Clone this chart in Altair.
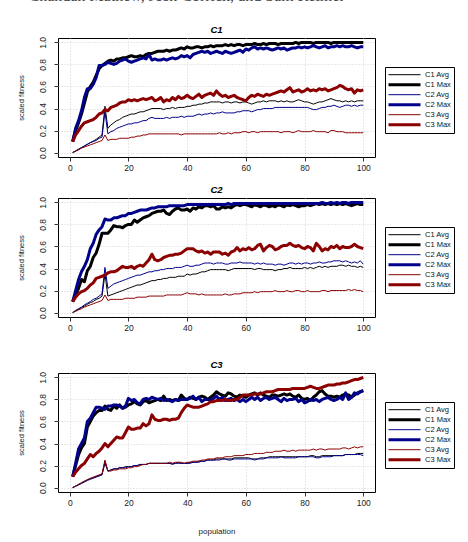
import altair as alt
import pandas as pd

# Generation index along the x axis
population = list(range(1, 101))

series_names = ["C1 Avg", "C1 Max", "C2 Avg", "C2 Max", "C3 Avg", "C3 Max"]
series_colors = ["#000000", "#000000", "#00008b", "#00008b", "#8b0000", "#8b0000"]
series_widths = [1, 3, 1, 3, 1, 3]

x_ticks = [0, 20, 40, 60, 80, 100]
y_ticks = [0.0, 0.2, 0.4, 0.6, 0.8, 1.0]

running_header = "Chandan Mathew, Josh Corrick, and Sam Reimer"

# ---- Panel C1 ----
c1_c1_avg = [0.00, 0.015, 0.03, 0.045, 0.06, 0.075, 0.09, 0.105, 0.12, 0.14,
             0.16, 0.42, 0.22, 0.25, 0.27, 0.29, 0.30, 0.32, 0.33, 0.34,
             0.35, 0.35, 0.36, 0.37, 0.37, 0.38, 0.39, 0.40, 0.40, 0.40,
             0.40, 0.39, 0.40, 0.40, 0.41, 0.40, 0.41, 0.41, 0.41, 0.42,
             0.42, 0.43, 0.43, 0.44, 0.44, 0.45, 0.45, 0.46, 0.46, 0.46,
             0.46, 0.45, 0.46, 0.46, 0.45, 0.46, 0.46, 0.45, 0.46, 0.46,
             0.45, 0.44, 0.45, 0.46, 0.46, 0.47, 0.46, 0.47, 0.47, 0.47,
             0.46, 0.47, 0.46, 0.47, 0.46, 0.46, 0.47, 0.48, 0.47, 0.46,
             0.46, 0.45, 0.44, 0.45, 0.46, 0.46, 0.47, 0.48, 0.49, 0.48,
             0.47, 0.47, 0.46, 0.47, 0.46, 0.47, 0.46, 0.47, 0.47, 0.47]
c1_c1_max = [0.10, 0.20, 0.27, 0.35, 0.45, 0.55, 0.60, 0.64, 0.70, 0.76,
             0.79, 0.81, 0.83, 0.84, 0.83, 0.85, 0.85, 0.86, 0.86, 0.87,
             0.88, 0.87, 0.87, 0.88, 0.87, 0.89, 0.90, 0.90, 0.91, 0.92,
             0.92, 0.92, 0.93, 0.92, 0.93, 0.93, 0.94, 0.95, 0.94, 0.96,
             0.95, 0.95, 0.96, 0.96, 0.95, 0.96, 0.96, 0.97, 0.96, 0.97,
             0.97, 0.97, 0.98, 0.97, 0.98, 0.97, 0.98, 0.98, 0.97, 0.98,
             0.98, 0.98, 0.99, 0.98, 0.98, 0.99, 0.98, 0.99, 0.99, 0.99,
             0.98, 0.99, 0.99, 0.99, 0.99, 0.99, 1.00, 0.99, 1.00, 1.00,
             1.00, 1.00, 0.99, 1.00, 1.00, 1.00, 1.00, 1.00, 0.99, 1.00,
             1.00, 1.00, 1.00, 1.00, 1.00, 1.00, 1.00, 1.00, 1.00, 1.00]
c1_c2_avg = [0.00, 0.015, 0.03, 0.045, 0.06, 0.075, 0.09, 0.10, 0.11, 0.13,
             0.14, 0.37, 0.17, 0.19, 0.20, 0.22, 0.23, 0.24, 0.25, 0.26,
             0.26, 0.27, 0.27, 0.28, 0.29, 0.29, 0.31, 0.32, 0.31, 0.31,
             0.31, 0.31, 0.32, 0.31, 0.32, 0.32, 0.32, 0.33, 0.32, 0.33,
             0.33, 0.33, 0.34, 0.35, 0.34, 0.35, 0.35, 0.36, 0.35, 0.36,
             0.36, 0.37, 0.36, 0.36, 0.36, 0.36, 0.37, 0.37, 0.38, 0.38,
             0.38, 0.37, 0.38, 0.39, 0.39, 0.40, 0.40, 0.40, 0.40, 0.41,
             0.41, 0.41, 0.41, 0.41, 0.41, 0.41, 0.41, 0.41, 0.41, 0.41,
             0.41, 0.40, 0.39, 0.39, 0.40, 0.41, 0.41, 0.42, 0.42, 0.43,
             0.42, 0.41, 0.42, 0.43, 0.43, 0.42, 0.43, 0.42, 0.43, 0.43]
c1_c2_max = [0.10, 0.22, 0.29, 0.38, 0.50, 0.58, 0.58, 0.62, 0.68, 0.79,
             0.79, 0.80, 0.82, 0.81, 0.80, 0.81, 0.83, 0.84, 0.85, 0.83,
             0.82, 0.83, 0.84, 0.85, 0.86, 0.85, 0.89, 0.84, 0.85, 0.84,
             0.84, 0.85, 0.84, 0.85, 0.86, 0.85, 0.86, 0.88, 0.87, 0.88,
             0.86, 0.89, 0.90, 0.91, 0.92, 0.91, 0.92, 0.90, 0.91, 0.92,
             0.91, 0.90, 0.92, 0.91, 0.90, 0.91, 0.92, 0.93, 0.91, 0.94,
             0.93, 0.95, 0.96, 0.94, 0.95, 0.94, 0.95, 0.94, 0.93, 0.94,
             0.95, 0.94, 0.95, 0.93, 0.94, 0.95, 0.95, 0.96, 0.95, 0.96,
             0.95, 0.96, 0.97, 0.96, 0.95, 0.96, 0.97, 0.95, 0.96, 0.96,
             0.97, 0.96, 0.97, 0.96, 0.96, 0.97, 0.96, 0.95, 0.96, 0.96]
c1_c3_avg = [0.00, 0.012, 0.025, 0.04, 0.05, 0.06, 0.07, 0.08, 0.09, 0.10,
             0.11, 0.16, 0.11, 0.12, 0.12, 0.12, 0.13, 0.13, 0.13, 0.13,
             0.14, 0.14, 0.15, 0.15, 0.16, 0.16, 0.17, 0.17, 0.17, 0.17,
             0.17, 0.17, 0.17, 0.17, 0.17, 0.17, 0.17, 0.16, 0.17, 0.17,
             0.17, 0.17, 0.17, 0.17, 0.17, 0.17, 0.17, 0.17, 0.17, 0.17,
             0.18, 0.17, 0.17, 0.18, 0.17, 0.18, 0.18, 0.18, 0.19, 0.19,
             0.18, 0.19, 0.19, 0.18, 0.19, 0.19, 0.19, 0.19, 0.19, 0.19,
             0.19, 0.18, 0.19, 0.19, 0.19, 0.18, 0.19, 0.20, 0.19, 0.19,
             0.19, 0.19, 0.20, 0.19, 0.19, 0.19, 0.19, 0.18, 0.20, 0.20,
             0.19, 0.19, 0.19, 0.18, 0.18, 0.18, 0.18, 0.18, 0.18, 0.18]
c1_c3_max = [0.10, 0.16, 0.20, 0.24, 0.27, 0.28, 0.29, 0.30, 0.32, 0.35,
             0.36, 0.39, 0.38, 0.41, 0.42, 0.43, 0.45, 0.46, 0.46, 0.48,
             0.47, 0.48, 0.47, 0.48, 0.49, 0.48, 0.49, 0.50, 0.47, 0.48,
             0.50, 0.46, 0.48, 0.47, 0.50, 0.48, 0.51, 0.49, 0.50, 0.52,
             0.50, 0.49, 0.51, 0.53, 0.50, 0.52, 0.53, 0.54, 0.52, 0.56,
             0.53, 0.51, 0.52, 0.50, 0.51, 0.52, 0.50, 0.49, 0.48, 0.47,
             0.50, 0.52, 0.51, 0.53, 0.52, 0.51, 0.53, 0.52, 0.53, 0.54,
             0.55, 0.56, 0.55, 0.57, 0.59, 0.55, 0.56, 0.57, 0.55, 0.56,
             0.58, 0.56, 0.57, 0.56, 0.58, 0.57, 0.58, 0.56, 0.57, 0.58,
             0.59, 0.61, 0.60, 0.58, 0.57, 0.58, 0.54, 0.57, 0.56, 0.57]

# ---- Panel C2 ----
c2_c1_avg = [0.00, 0.015, 0.03, 0.045, 0.06, 0.075, 0.09, 0.10, 0.12, 0.13,
             0.15, 0.35, 0.15, 0.16, 0.17, 0.18, 0.19, 0.20, 0.21, 0.22,
             0.23, 0.24, 0.25, 0.25, 0.26, 0.27, 0.28, 0.29, 0.29, 0.30,
             0.30, 0.31, 0.31, 0.32, 0.32, 0.32, 0.33, 0.33, 0.33, 0.35,
             0.34, 0.35, 0.35, 0.36, 0.37, 0.37, 0.38, 0.39, 0.39, 0.39,
             0.39, 0.39, 0.39, 0.38, 0.39, 0.40, 0.40, 0.40, 0.40, 0.40,
             0.40, 0.40, 0.39, 0.40, 0.40, 0.39, 0.39, 0.39, 0.39, 0.38,
             0.39, 0.39, 0.40, 0.40, 0.41, 0.40, 0.40, 0.40, 0.40, 0.41,
             0.40, 0.41, 0.40, 0.41, 0.42, 0.41, 0.42, 0.41, 0.42, 0.42,
             0.42, 0.43, 0.43, 0.42, 0.43, 0.42, 0.42, 0.41, 0.42, 0.41]
c2_c1_max = [0.10, 0.16, 0.22, 0.30, 0.28, 0.38, 0.42, 0.50, 0.54, 0.62,
             0.72, 0.72, 0.72, 0.75, 0.79, 0.78, 0.78, 0.77, 0.79, 0.80,
             0.80, 0.84, 0.82, 0.84, 0.86, 0.87, 0.88, 0.90, 0.91, 0.92,
             0.92, 0.93, 0.90, 0.89, 0.92, 0.94, 0.95, 0.93, 0.93, 0.94,
             0.92, 0.95, 0.94, 0.96, 0.95, 0.97, 0.97, 0.96, 0.97, 0.94,
             0.94, 0.96, 0.95, 0.96, 0.95, 0.97, 0.98, 0.97, 0.98, 0.98,
             0.97, 0.96, 0.98, 0.97, 0.96, 0.98, 0.97, 0.96, 0.97, 0.96,
             0.98, 0.97, 0.96, 0.98, 0.97, 0.98, 0.97, 0.96, 0.97, 0.97,
             0.98, 0.97, 0.98, 0.99, 0.98, 0.99, 0.98, 0.99, 0.98, 0.99,
             0.98, 0.99, 0.98, 0.99, 0.98, 0.97, 0.98, 0.99, 0.98, 0.98]
c2_c2_avg = [0.00, 0.02, 0.035, 0.05, 0.07, 0.085, 0.10, 0.12, 0.13, 0.15,
             0.17, 0.41, 0.22, 0.24, 0.26, 0.27, 0.28, 0.29, 0.30, 0.31,
             0.32, 0.33, 0.34, 0.34, 0.35, 0.36, 0.37, 0.37, 0.38, 0.38,
             0.39, 0.39, 0.40, 0.40, 0.40, 0.41, 0.41, 0.41, 0.42, 0.43,
             0.42, 0.42, 0.43, 0.43, 0.44, 0.45, 0.45, 0.45, 0.44, 0.45,
             0.45, 0.45, 0.44, 0.44, 0.45, 0.45, 0.45, 0.46, 0.45, 0.45,
             0.45, 0.45, 0.44, 0.45, 0.44, 0.45, 0.44, 0.44, 0.44, 0.43,
             0.44, 0.44, 0.43, 0.44, 0.45, 0.45, 0.44, 0.45, 0.44, 0.45,
             0.45, 0.44, 0.45, 0.45, 0.46, 0.45, 0.45, 0.46, 0.46, 0.47,
             0.47, 0.47, 0.46, 0.47, 0.46, 0.45, 0.46, 0.45, 0.47, 0.44]
c2_c2_max = [0.10, 0.20, 0.30, 0.37, 0.42, 0.48, 0.58, 0.63, 0.71, 0.75,
             0.78, 0.85, 0.84, 0.84, 0.86, 0.86, 0.87, 0.88, 0.88, 0.90,
             0.90, 0.91, 0.92, 0.93, 0.93, 0.93, 0.94, 0.95, 0.95, 0.96,
             0.96, 0.96, 0.96, 0.97, 0.97, 0.97, 0.97, 0.97, 0.97, 0.98,
             0.98, 0.98, 0.98, 0.98, 0.98, 0.98, 0.98, 0.98, 0.98, 0.98,
             0.98, 0.98, 0.98, 0.99, 0.98, 0.99, 0.99, 0.99, 0.99, 0.99,
             0.99, 0.99, 0.99, 0.99, 0.99, 0.99, 0.99, 0.99, 0.99, 0.99,
             0.99, 0.99, 0.99, 0.99, 0.99, 0.99, 0.99, 0.99, 0.99, 0.99,
             0.99, 0.99, 0.99, 0.99, 0.99, 1.00, 0.99, 0.99, 1.00, 0.99,
             1.00, 0.99, 1.00, 1.00, 0.99, 1.00, 1.00, 1.00, 1.00, 1.00]
c2_c3_avg = [0.00, 0.012, 0.025, 0.035, 0.05, 0.06, 0.07, 0.08, 0.09, 0.10,
             0.11, 0.16, 0.11, 0.12, 0.12, 0.12, 0.12, 0.12, 0.13, 0.13,
             0.13, 0.13, 0.14, 0.14, 0.14, 0.14, 0.15, 0.15, 0.15, 0.15,
             0.15, 0.15, 0.16, 0.16, 0.16, 0.16, 0.16, 0.16, 0.17, 0.18,
             0.17, 0.17, 0.17, 0.16, 0.17, 0.16, 0.16, 0.16, 0.16, 0.16,
             0.16, 0.16, 0.17, 0.16, 0.16, 0.17, 0.17, 0.17, 0.18, 0.18,
             0.18, 0.18, 0.19, 0.18, 0.19, 0.19, 0.19, 0.19, 0.19, 0.20,
             0.19, 0.19, 0.19, 0.20, 0.19, 0.19, 0.20, 0.20, 0.19, 0.19,
             0.20, 0.19, 0.19, 0.19, 0.19, 0.20, 0.20, 0.19, 0.20, 0.20,
             0.20, 0.20, 0.20, 0.20, 0.21, 0.20, 0.21, 0.20, 0.20, 0.19]
c2_c3_max = [0.10, 0.14, 0.17, 0.19, 0.20, 0.22, 0.25, 0.27, 0.31, 0.32,
             0.33, 0.34, 0.36, 0.37, 0.37, 0.38, 0.40, 0.42, 0.41, 0.41,
             0.42, 0.40, 0.42, 0.43, 0.42, 0.45, 0.48, 0.53, 0.48, 0.47,
             0.48, 0.50, 0.51, 0.52, 0.52, 0.53, 0.53, 0.54, 0.56, 0.58,
             0.58, 0.58, 0.56, 0.55, 0.56, 0.54, 0.55, 0.53, 0.55, 0.55,
             0.55, 0.53, 0.54, 0.52, 0.55, 0.56, 0.59, 0.56, 0.58, 0.57,
             0.59, 0.57, 0.58, 0.61, 0.62, 0.56, 0.59, 0.61, 0.60, 0.57,
             0.58, 0.60, 0.61, 0.61, 0.63, 0.61, 0.60, 0.61, 0.59, 0.58,
             0.60, 0.59, 0.56, 0.63, 0.60, 0.56, 0.58, 0.57, 0.60, 0.59,
             0.61, 0.58, 0.60, 0.59, 0.59, 0.60, 0.62, 0.60, 0.59, 0.58]

# ---- Panel C3 ----
c3_c1_avg = [0.00, 0.013, 0.026, 0.04, 0.055, 0.07, 0.08, 0.09, 0.10, 0.11,
             0.12, 0.22, 0.15, 0.16, 0.17, 0.17, 0.18, 0.18, 0.19, 0.19,
             0.19, 0.20, 0.20, 0.21, 0.21, 0.21, 0.22, 0.22, 0.22, 0.22,
             0.22, 0.22, 0.22, 0.22, 0.22, 0.22, 0.23, 0.22, 0.22, 0.22,
             0.23, 0.23, 0.23, 0.24, 0.24, 0.24, 0.25, 0.25, 0.25, 0.26,
             0.26, 0.26, 0.26, 0.26, 0.26, 0.27, 0.27, 0.27, 0.27, 0.27,
             0.27, 0.26, 0.26, 0.26, 0.27, 0.27, 0.27, 0.28, 0.28, 0.28,
             0.28, 0.28, 0.28, 0.28, 0.28, 0.28, 0.28, 0.28, 0.28, 0.28,
             0.28, 0.29, 0.29, 0.28, 0.28, 0.29, 0.29, 0.29, 0.29, 0.29,
             0.29, 0.29, 0.29, 0.30, 0.30, 0.30, 0.30, 0.31, 0.31, 0.31]
c3_c1_max = [0.10, 0.20, 0.30, 0.36, 0.40, 0.55, 0.60, 0.65, 0.68, 0.70,
             0.70, 0.74, 0.71, 0.70, 0.74, 0.72, 0.75, 0.72, 0.73, 0.75,
             0.76, 0.78, 0.76, 0.75, 0.78, 0.79, 0.77, 0.78, 0.79, 0.80,
             0.79, 0.83, 0.79, 0.80, 0.79, 0.80, 0.79, 0.84, 0.81, 0.80,
             0.82, 0.81, 0.80, 0.82, 0.83, 0.82, 0.80, 0.82, 0.84, 0.87,
             0.85, 0.84, 0.83, 0.86, 0.85, 0.83, 0.82, 0.84, 0.83, 0.82,
             0.84, 0.85, 0.86, 0.84, 0.86, 0.84, 0.83, 0.82, 0.84, 0.84,
             0.83, 0.84, 0.85, 0.84, 0.85, 0.83, 0.82, 0.84, 0.81, 0.80,
             0.81, 0.79, 0.82, 0.84, 0.87, 0.88, 0.85, 0.83, 0.83, 0.82,
             0.83, 0.82, 0.84, 0.85, 0.84, 0.82, 0.84, 0.86, 0.87, 0.88]
c3_c2_avg = [0.00, 0.012, 0.024, 0.037, 0.05, 0.065, 0.075, 0.085, 0.095, 0.105,
             0.115, 0.24, 0.15, 0.16, 0.17, 0.17, 0.18, 0.18, 0.18, 0.19,
             0.19, 0.20, 0.20, 0.21, 0.21, 0.21, 0.22, 0.22, 0.22, 0.22,
             0.22, 0.22, 0.22, 0.22, 0.21, 0.22, 0.22, 0.22, 0.22, 0.22,
             0.22, 0.23, 0.23, 0.23, 0.24, 0.24, 0.25, 0.25, 0.25, 0.25,
             0.25, 0.26, 0.26, 0.25, 0.25, 0.26, 0.26, 0.26, 0.26, 0.26,
             0.26, 0.26, 0.25, 0.26, 0.26, 0.26, 0.27, 0.27, 0.27, 0.27,
             0.27, 0.28, 0.27, 0.27, 0.27, 0.27, 0.27, 0.28, 0.28, 0.28,
             0.28, 0.28, 0.28, 0.27, 0.27, 0.28, 0.28, 0.28, 0.28, 0.29,
             0.29, 0.29, 0.29, 0.30, 0.30, 0.30, 0.30, 0.30, 0.30, 0.29]
c3_c2_max = [0.10, 0.22, 0.35, 0.40, 0.45, 0.60, 0.63, 0.68, 0.73, 0.73,
             0.72, 0.71, 0.74, 0.74, 0.75, 0.75, 0.74, 0.72, 0.74, 0.81,
             0.79, 0.80, 0.77, 0.76, 0.80, 0.81, 0.80, 0.82, 0.81, 0.80,
             0.81, 0.79, 0.80, 0.79, 0.78, 0.80, 0.79, 0.80, 0.80, 0.80,
             0.81, 0.83, 0.80, 0.82, 0.78, 0.80, 0.80, 0.79, 0.81, 0.83,
             0.80, 0.82, 0.79, 0.80, 0.81, 0.79, 0.80, 0.78, 0.80, 0.78,
             0.80, 0.82, 0.80, 0.82, 0.79, 0.81, 0.82, 0.80, 0.81, 0.82,
             0.80, 0.78, 0.81, 0.79, 0.80, 0.80, 0.81, 0.78, 0.80, 0.77,
             0.78, 0.80, 0.79, 0.80, 0.78, 0.80, 0.81, 0.82, 0.80, 0.79,
             0.80, 0.82, 0.80, 0.86, 0.80, 0.82, 0.86, 0.85, 0.87, 0.88]
c3_c3_avg = [0.00, 0.015, 0.03, 0.045, 0.06, 0.072, 0.085, 0.095, 0.105, 0.115,
             0.125, 0.25, 0.15, 0.15, 0.16, 0.16, 0.17, 0.17, 0.17, 0.18,
             0.18, 0.19, 0.19, 0.20, 0.21, 0.21, 0.22, 0.22, 0.22, 0.22,
             0.22, 0.22, 0.22, 0.23, 0.22, 0.23, 0.23, 0.23, 0.22, 0.23,
             0.23, 0.24, 0.24, 0.24, 0.25, 0.25, 0.26, 0.26, 0.26, 0.27,
             0.27, 0.27, 0.28, 0.28, 0.28, 0.29, 0.29, 0.29, 0.29, 0.30,
             0.30, 0.30, 0.31, 0.31, 0.31, 0.31, 0.32, 0.32, 0.32, 0.33,
             0.33, 0.33, 0.34, 0.33, 0.33, 0.34, 0.33, 0.34, 0.34, 0.34,
             0.34, 0.34, 0.35, 0.34, 0.35, 0.35, 0.34, 0.35, 0.35, 0.35,
             0.35, 0.35, 0.36, 0.36, 0.35, 0.36, 0.37, 0.36, 0.37, 0.37]
c3_c3_max = [0.10, 0.14, 0.17, 0.20, 0.22, 0.26, 0.30, 0.28, 0.31, 0.33,
             0.36, 0.40, 0.37, 0.40, 0.43, 0.46, 0.45, 0.45, 0.50, 0.55,
             0.53, 0.53, 0.54, 0.54, 0.58, 0.56, 0.58, 0.66, 0.62, 0.61,
             0.61, 0.62, 0.62, 0.61, 0.62, 0.62, 0.63, 0.68, 0.72, 0.75,
             0.74, 0.73, 0.73, 0.73, 0.74, 0.75, 0.76, 0.78, 0.78, 0.79,
             0.79, 0.79, 0.80, 0.79, 0.79, 0.80, 0.80, 0.82, 0.84, 0.84,
             0.84, 0.84, 0.85, 0.85, 0.85, 0.86, 0.87, 0.87, 0.87, 0.88,
             0.89, 0.89, 0.89, 0.89, 0.89, 0.90, 0.90, 0.90, 0.90, 0.90,
             0.91, 0.92, 0.91, 0.90, 0.90, 0.91, 0.92, 0.93, 0.93, 0.93,
             0.94, 0.94, 0.95, 0.95, 0.96, 0.97, 0.98, 0.98, 0.99, 1.00]

panels = [
    ("C1", [c1_c1_avg, c1_c1_max, c1_c2_avg, c1_c2_max, c1_c3_avg, c1_c3_max]),
    ("C2", [c2_c1_avg, c2_c1_max, c2_c2_avg, c2_c2_max, c2_c3_avg, c2_c3_max]),
    ("C3", [c3_c1_avg, c3_c1_max, c3_c2_avg, c3_c2_max, c3_c3_avg, c3_c3_max]),
]

FONT = "Liberation Sans"
PLOT_W, PLOT_H = 317, 119
TEXT = "#222222"


def make_frame(series_values):
    rows = []
    for order, (name, width, values) in enumerate(zip(series_names, series_widths, series_values)):
        for gen, v in zip(population, values):
            rows.append({"population": gen, "fitness": v, "series": name,
                         "width": width, "order": order})
    return pd.DataFrame(rows)


def make_panel(title, series_values, x_title):
    df = make_frame(series_values)
    legend = alt.Legend(
        title=None,
        orient="none",
        legendX=PLOT_W + 10,
        legendY=29,
        symbolType="stroke",
        symbolSize=1024,
        symbolStrokeWidth={"expr": "(datum.value ? (indexof(datum.value, 'Max') >= 0 ? 3 : 1) : 1)"},
        clipHeight=9.4,
        rowPadding=0,
        padding=3,
        strokeColor="#000000",
        labelFont=FONT,
        labelFontSize=7.5,
        labelOffset=4,
        labelColor="#111111",
    )
    return alt.Chart(df).mark_line().encode(
        x=alt.X(
            "population:Q",
            scale=alt.Scale(domain=[-4, 104], nice=False, zero=False),
            axis=alt.Axis(values=x_ticks, title=x_title, format="d",
                          labelPadding=2, titlePadding=21,
                          titleColor=TEXT, titleFontSize=8),
        ),
        y=alt.Y(
            "fitness:Q",
            scale=alt.Scale(domain=[-0.04, 1.04], nice=False, zero=False),
            axis=alt.Axis(values=y_ticks, format=".1f", title="scaled fitness",
                          labelAngle=-90, labelAlign="center", labelBaseline="bottom",
                          labelPadding=7, titlePadding=13, titleColor=TEXT),
        ),
        color=alt.Color("series:N",
                        scale=alt.Scale(domain=series_names, range=series_colors),
                        legend=legend),
        strokeWidth=alt.StrokeWidth("width:Q", scale=None),
        order=alt.Order("order:Q"),
    ).properties(
        width=PLOT_W,
        height=PLOT_H,
        title=alt.Title(title, fontStyle="italic", fontWeight="bold",
                        fontSize=9.5, font=FONT, offset=2, color="#000000"),
    )


p1 = make_panel(panels[0][0], panels[0][1], None)
p2 = make_panel(panels[1][0], panels[1][1], None)
p3 = make_panel(panels[2][0], panels[2][1], "population")

upper = alt.vconcat(p1, p2, spacing=12).resolve_scale(color="independent").resolve_legend(color="independent")
chart = alt.vconcat(upper, p3, spacing=27).resolve_scale(
    color="independent"
).resolve_legend(
    color="independent"
).properties(
    # running page header, only its lower edge falls inside the view
    title=alt.Title(running_header, font="Liberation Serif", fontSize=16,
                    fontWeight="normal", color="#444444", anchor="start",
                    baseline="alphabetic", offset=7, dx=12),
    padding={"left": 16, "top": -12, "right": 5, "bottom": 5},
    background="#ffffff",
).configure_view(
    stroke="#000000", strokeWidth=1
).configure_axis(
    labelFont=FONT,
    labelFontSize=8.5,
    labelColor=TEXT,
    titleFont=FONT,
    titleFontSize=7.5,
    titleFontWeight="normal",
    titleColor=TEXT,
    domain=False,
    ticks=True,
    tickSize=4,
    tickColor="#333333",
    grid=True,
    gridColor="#d3d3d3",
    gridDash=[1, 2],
    gridWidth=1,
).configure_line(
    strokeJoin="round", strokeCap="butt"
)

chart.save("out.html", embed_options={"renderer": "svg", "actions": False})
